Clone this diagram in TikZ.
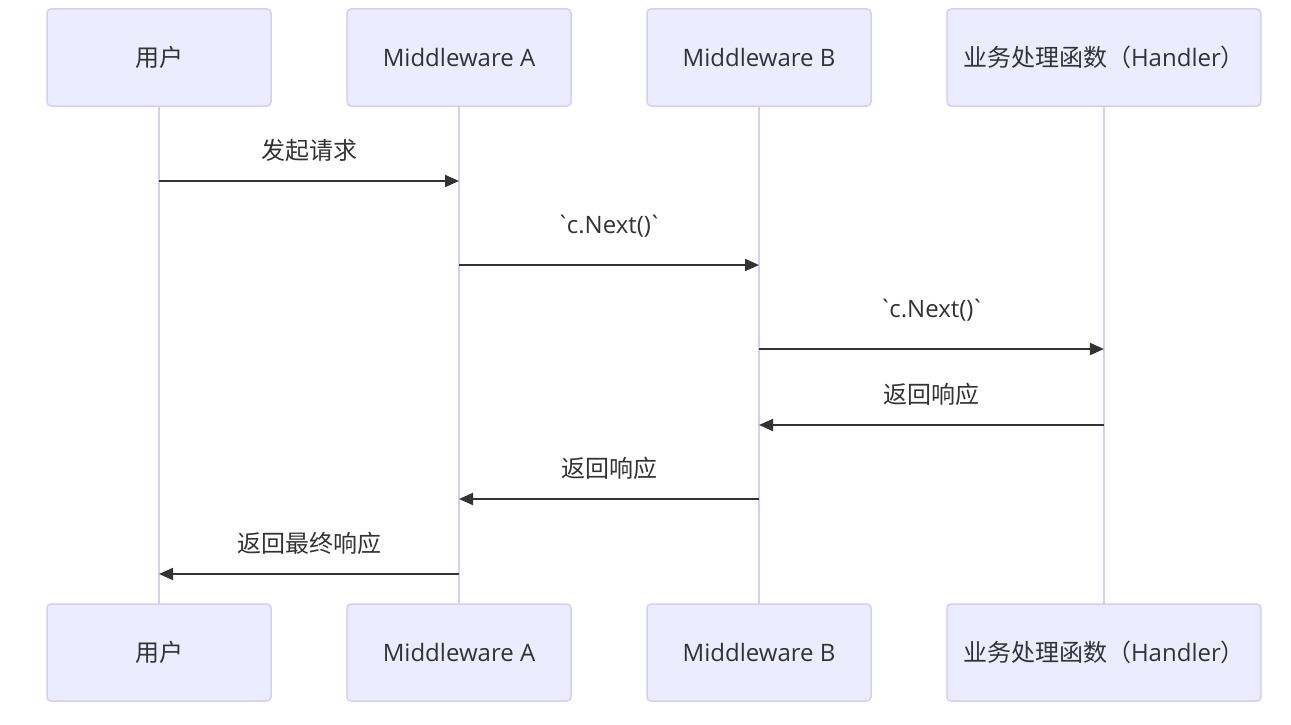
\documentclass[tikz,border=0pt]{standalone}
\usepackage{fontspec}
\setmainfont{Open Sans}[Ligatures=TeXOff]
\newfontfamily\cjk{Noto Sans CJK SC}
\usetikzlibrary{positioning,arrows.meta}
\definecolor{actorfill}{HTML}{ECECFF}
\definecolor{actorline}{HTML}{D9CDF4}
\definecolor{msgtext}{HTML}{333333}
\newcommand{\nextcall}{`\kern-3pt c.Next()\kern-3pt`}

\begin{document}
\begin{tikzpicture}[x=1pt, y=-1pt, font=\fontsize{24}{28}\selectfont, text=msgtext,
	actor/.style={draw=actorline, line width=1.5pt, fill=actorfill, rounded corners=4pt,
		minimum width=224pt, minimum height=97pt, inner xsep=16pt, outer sep=0pt},
	lifeline/.style={draw=actorline, line width=2pt},
	msg/.style={draw=msgtext, line width=2pt, -{Triangle[length=14pt, width=12pt]}},
	lbl/.style={midway, yshift=31pt},
	codelbl/.style={midway, yshift=39pt}]
	\useasboundingbox (0,0) rectangle (1291,725);
	% participants, top row
	\node[actor] (user) at (159,57.5) {\cjk 用户};
	\node[actor, right = 76pt of user] (mwa) {Middleware A};
	\node[actor, right = 76pt of mwa] (mwb) {Middleware B};
	\node[actor, right = 76pt of mwb] (handler) {{\cjk 业务处理函数（}Handler{\cjk ）}};
	% participants, bottom row
	\node[actor, below = 498pt of user] (userB) {\cjk 用户};
	\node[actor, below = 498pt of mwa] (mwaB) {Middleware A};
	\node[actor, below = 498pt of mwb] (mwbB) {Middleware B};
	\node[actor, below = 498pt of handler] (handlerB) {{\cjk 业务处理函数（}Handler{\cjk ）}};
	% lifelines
	\draw[lifeline] (user) -- (userB)
		(mwa) -- (mwaB)
		(mwb) -- (mwbB)
		(handler) -- (handlerB);
	% messages
	\draw[msg] (user |- 0,181) -- node[lbl] {\cjk 发起请求} (mwa |- 0,181);
	\draw[msg] (mwa |- 0,265) -- node[codelbl] {\nextcall} (mwb |- 0,265);
	\draw[msg] (mwb |- 0,349) -- node[codelbl] {\nextcall} (handler |- 0,349);
	\draw[msg] (handler |- 0,425) -- node[lbl] {\cjk 返回响应} (mwb |- 0,425);
	\draw[msg] (mwb |- 0,499) -- node[lbl] {\cjk 返回响应} (mwa |- 0,499);
	\draw[msg] (mwa |- 0,574) -- node[lbl] {\cjk 返回最终响应} (user |- 0,574);
\end{tikzpicture}
\end{document}
